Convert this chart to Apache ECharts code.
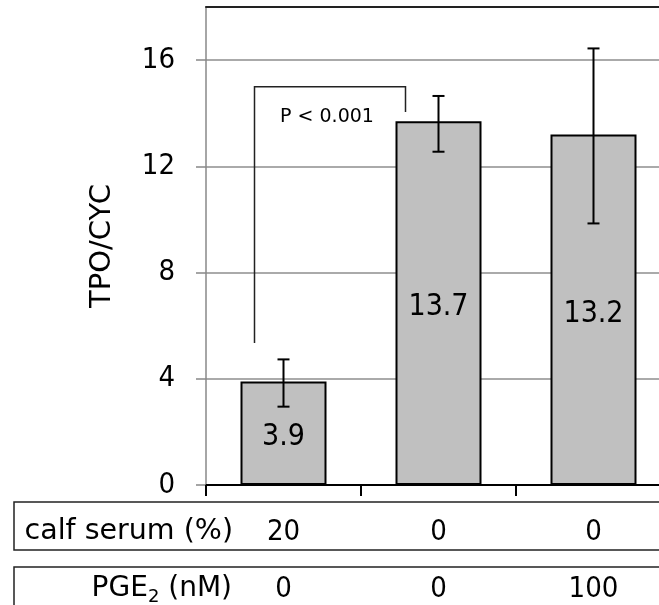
<!DOCTYPE html>
<html><head><meta charset="utf-8">
<script src="https://cdn.jsdelivr.net/npm/echarts@6/dist/echarts.min.js"></script>
<style>html,body{margin:0;padding:0;background:#fff}#c{width:659px;height:605px}</style>
</head><body><div id="c"></div>
<script>
const FONT = "'DejaVu Sans Condensed', 'DejaVu Sans', sans-serif";
const FONT_W = "'DejaVu Sans', sans-serif";
const categories = ['1', '2', '3'];
const means = [3.9, 13.7, 13.2];
const errLow = [2.95, 12.55, 9.85];
const errHigh = [4.73, 14.65, 16.44];
const yTickValues = [0, 4, 8, 12, 16];
const calfSerum = ['20', '0', '0'];
const pge2 = ['0', '0', '100'];
const bracketCats = [0, 1];
const bracketY = [5.35, 15, 14.05]; // left foot, top, right foot
const pLabel = 'P < 0.001';
const rowLabel1 = 'calf serum (%)';
const rowLabel2 = '{a|PGE}{s|2}{a| (nM)}';

const chart = echarts.init(document.getElementById('c'), null, {renderer: 'canvas'});
chart.setOption({
  animation: false,
  textStyle: {fontFamily: FONT},
  grid: {left: 206, top: 7, right: -12, bottom: 120, containLabel: false, outerBoundsMode: 'none'},
  xAxis: [{
    type: 'category', data: categories, position: 'bottom',
    axisLine: {lineStyle: {color: '#000', width: 2}},
    axisTick: {show: true, length: 11, lineStyle: {color: '#000', width: 2}},
    axisLabel: {show: false}
  }, {
    type: 'category', data: categories, position: 'top',
    axisLine: {lineStyle: {color: '#222', width: 2}},
    axisTick: {show: false}, axisLabel: {show: false}
  }],
  yAxis: {
    type: 'value', min: 0, max: 18, interval: 4,
    name: 'TPO/CYC', nameLocation: 'middle', nameGap: 89,
    nameTextStyle: {fontSize: 29, color: '#000', fontFamily: FONT_W},
    axisLine: {show: true, lineStyle: {color: '#888', width: 1.5}},
    axisTick: {show: true, length: 10, customValues: yTickValues, lineStyle: {color: '#888', width: 1.5}},
    axisLabel: {customValues: yTickValues, margin: 31, fontSize: 29, color: '#000', fontFamily: FONT},
    splitLine: {lineStyle: {color: '#8e8e8e', width: 1.5}}
  },
  series: [{
    type: 'bar', data: means, barWidth: 86,
    itemStyle: {color: '#c0c0c0', borderColor: '#000', borderWidth: 2},
    label: {show: true, position: 'inside', offset: [0, 4], fontSize: 30, color: '#000', fontFamily: FONT}
  }, {
    type: 'custom', z: 10,
    data: categories.map((c, i) => [i, errLow[i], errHigh[i]]),
    encode: {x: 0, y: [1, 2]},
    renderItem(params, api) {
      const lo = api.coord([api.value(0), api.value(1)]);
      const hi = api.coord([api.value(0), api.value(2)]);
      const hw = 6;
      const st = {stroke: '#000', lineWidth: 2};
      return {type: 'group', children: [
        {type: 'line', shape: {x1: lo[0], y1: lo[1], x2: hi[0], y2: hi[1]}, style: st},
        {type: 'line', shape: {x1: lo[0] - hw, y1: lo[1], x2: lo[0] + hw, y2: lo[1]}, style: st},
        {type: 'line', shape: {x1: hi[0] - hw, y1: hi[1], x2: hi[0] + hw, y2: hi[1]}, style: st}
      ]};
    }
  }, {
    type: 'custom', z: 11,
    data: [[bracketCats[0], bracketCats[1], bracketY[0], bracketY[1], bracketY[2]]],
    encode: {x: [0, 1], y: [2, 3, 4]},
    renderItem(params, api) {
      const a = api.coord([api.value(0), api.value(2)]);
      const t = api.coord([api.value(0), api.value(3)]);
      const b = api.coord([api.value(1), api.value(4)]);
      const xl = a[0] - 29, xr = b[0] - 33;
      return {type: 'group', children: [
        {type: 'polyline', shape: {points: [[xl, a[1]], [xl, t[1]], [xr, t[1]], [xr, b[1]]]},
         style: {stroke: '#222', lineWidth: 1.5, fill: null}},
        {type: 'text', x: (xl + xr) / 2 - 3, y: t[1] + 30,
         style: {text: pLabel, fontSize: 19, fontFamily: FONT_W, fill: '#000', align: 'center', verticalAlign: 'middle'}}
      ]};
    }
  }]
});

const row1Y = 532, row2Y = 589;
const graphics = [
  {type: 'rect', shape: {x: 14, y: 502, width: 680, height: 48}, style: {fill: 'none', stroke: '#222', lineWidth: 1.5}},
  {type: 'rect', shape: {x: 14, y: 567, width: 680, height: 60}, style: {fill: 'none', stroke: '#222', lineWidth: 1.5}},
  {type: 'text', x: 233, y: row1Y, style: {text: rowLabel1, fontSize: 28.5, fontFamily: FONT_W, fill: '#000', align: 'right', verticalAlign: 'middle'}},
  {type: 'text', x: 232, y: row2Y, style: {text: rowLabel2, fontFamily: FONT_W, fill: '#000', align: 'right', verticalAlign: 'middle',
    rich: {a: {fontSize: 28, fontFamily: FONT_W, lineHeight: 34, verticalAlign: 'middle'},
           s: {fontSize: 18, fontFamily: FONT_W, lineHeight: 18, verticalAlign: 'bottom'}}}}
];
categories.forEach((c, i) => {
  const x = chart.convertToPixel({xAxisIndex: 0}, i);
  graphics.push({type: 'text', x: x, y: row1Y, style: {text: calfSerum[i], fontSize: 29, fontFamily: FONT, fill: '#000', align: 'center', verticalAlign: 'middle'}});
  graphics.push({type: 'text', x: x, y: row2Y, style: {text: pge2[i], fontSize: 29, fontFamily: FONT, fill: '#000', align: 'center', verticalAlign: 'middle'}});
});
chart.setOption({graphic: graphics});
</script>
</body></html>
